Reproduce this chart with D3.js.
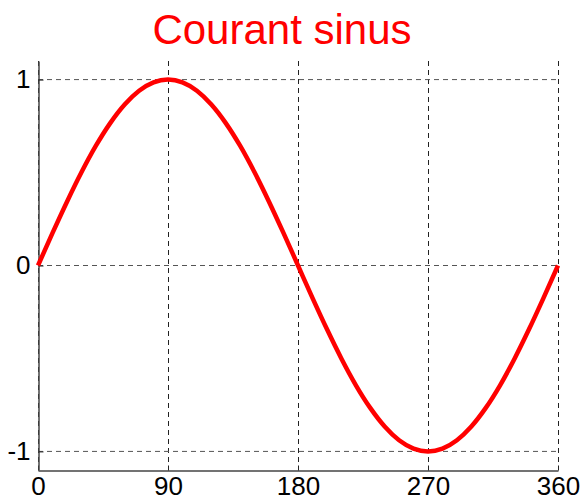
<!DOCTYPE html>
<html>
<head>
<meta charset="utf-8">
<script src="https://cdn.jsdelivr.net/npm/d3@7"></script>
<style>
  body { margin: 0; background: #fff; }
  svg { display: block; }
  text { font-family: "Liberation Sans", Arial, sans-serif; }
</style>
</head>
<body>
<svg id="chart" width="583" height="500"></svg>
<script>
// Angle samples (degrees) and the sine current sampled at each one
const angles = [0, 10, 20, 30, 40, 50, 60, 70, 80, 90, 100, 110, 120, 130, 140, 150, 160, 170,
  180, 190, 200, 210, 220, 230, 240, 250, 260, 270, 280, 290, 300, 310, 320, 330, 340, 350, 360];
const current = [0, 0.174, 0.342, 0.5, 0.643, 0.766, 0.866, 0.94, 0.985, 1, 0.985, 0.94, 0.866,
  0.766, 0.643, 0.5, 0.342, 0.174, 0, -0.174, -0.342, -0.5, -0.643, -0.766, -0.866, -0.94,
  -0.985, -1, -0.985, -0.94, -0.866, -0.766, -0.643, -0.5, -0.342, -0.174, 0];
const xTicks = [0, 90, 180, 270, 360];
const yTicks = [-1, 0, 1];
const titleText = "Courant sinus";

const svg = d3.select("#chart");
const plotLeft = 38, plotRight = 558, plotTop = 61, plotBottom = 470;

const x = d3.scaleLinear().domain([0, 360]).range([plotLeft, plotRight]);
const y = d3.scaleLinear().domain([-1.1, 1.1]).range([plotBottom, plotTop]);

// Dashed grid
const grid = svg.append("g").attr("stroke", "#222").attr("stroke-width", 1)
  .attr("stroke-dasharray", "5,4").attr("fill", "none");
grid.selectAll("line.v").data(xTicks).join("line")
  .attr("class", "v")
  .attr("x1", d => Math.round(x(d)) + 0.5).attr("x2", d => Math.round(x(d)) + 0.5)
  .attr("y1", plotTop).attr("y2", plotBottom);
grid.selectAll("line.h").data(yTicks).join("line")
  .attr("class", "h")
  .attr("stroke", "#555")
  .attr("x1", plotLeft).attr("x2", plotRight)
  .attr("y1", d => y(d)).attr("y2", d => y(d));

// Axes: left and bottom only, inward ticks, plain hyphen for negatives
const plain = d => String(d);
const xAxis = d3.axisBottom(x).tickValues(xTicks).tickFormat(plain)
  .tickSizeInner(-5).tickSizeOuter(0).tickPadding(6);
const yAxis = d3.axisLeft(y).tickValues(yTicks).tickFormat(plain)
  .tickSizeInner(-5).tickSizeOuter(0).tickPadding(8);

const gx = svg.append("g").attr("transform", `translate(0,${plotBottom + 0.5})`).call(xAxis);
const gy = svg.append("g").attr("transform", `translate(${plotLeft + 0.5},0)`).call(yAxis);

[gx, gy].forEach(g => {
  g.select(".domain").attr("stroke", "#444").attr("stroke-width", 1.5);
  g.selectAll(".tick line").attr("stroke", "#222");
  g.selectAll(".tick text")
    .attr("font-family", "'Liberation Sans', Arial, sans-serif")
    .attr("font-size", 26).attr("fill", "#000");
});
gx.selectAll(".tick text").attr("dy", "0.71em");

// Sine curve
const line = d3.line()
  .x((d, i) => x(angles[i]))
  .y(d => y(d))
  .curve(d3.curveMonotoneX);
svg.append("path")
  .datum(current)
  .attr("fill", "none")
  .attr("stroke", "#ff0000")
  .attr("stroke-width", 4.5)
  .attr("stroke-linejoin", "round")
  .attr("d", line);

// Title
svg.append("text")
  .attr("x", 282)
  .attr("y", 44)
  .attr("text-anchor", "middle")
  .attr("font-size", 42)
  .attr("fill", "#ff0000")
  .text(titleText);
</script>
</body>
</html>
